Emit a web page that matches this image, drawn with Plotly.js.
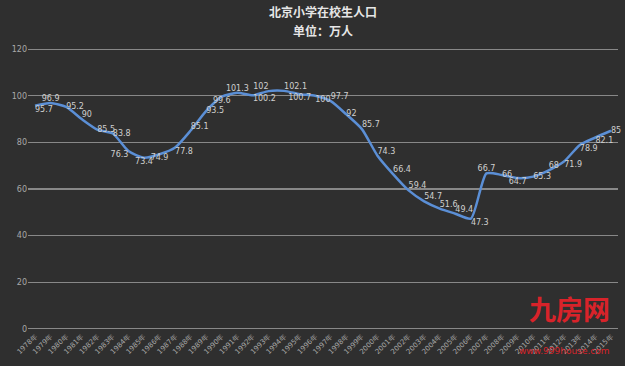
<!DOCTYPE html>
<html><head><meta charset="utf-8">
<script src="https://cdn.plot.ly/plotly-3.0.1.min.js"></script>
<style>html,body{margin:0;padding:0;background:#2f2f2f;}#c{width:625px;height:366px;}</style>
</head><body><div id="c"></div>
<script>
const chartTitle = '北京小学在校生人口';
const chartSubtitle = '单位：万人';
const years = [];
for (let y = 1978; y <= 2015; y++) years.push(y + '年');
const students = [95.7, 96.9, 95.2, 90, 85.5, 83.8, 76.3, 73.4, 74.9, 77.8, 85.1, 93.5, 99.6, 101.3, 100.2, 102, 102.1, 100.7, 100, 97.7, 92, 85.7, 74.3, 66.4, 59.4, 54.7, 51.6, 49.4, 47.3, 66.7, 66, 64.7, 65.3, 68, 71.9, 78.9, 82.1, 85];
const labelPos = ['bottom right','top center','middle right','top right','middle right','middle right','bottom left','bottom center','bottom center','bottom right','top right','middle right','bottom center','top center','bottom right','top left','top right','bottom center','bottom right','top right','middle right','top right','top right','top right','top right','top right','top right','top right','bottom right','top center','middle right','bottom center','middle right','top right','bottom right','bottom right','bottom right','middle right'];

const trace = {
  x: years, y: students, type: 'scatter', mode: 'lines+text',
  line: {color: '#5b8fd6', width: 2.5, shape: 'spline', smoothing: 0.6},
  text: students.map(String), textposition: labelPos,
  textfont: {family: 'DejaVu Sans', size: 8, color: '#cfcfcf'},
  cliponaxis: false, hoverinfo: 'none'
};
const layout = {
  width: 625, height: 366,
  paper_bgcolor: '#2f2f2f', plot_bgcolor: '#2f2f2f',
  margin: {l: 28, r: 7, t: 48, b: 36},
  showlegend: false,
  xaxis: {type: 'category', range: [-0.45, 37.45], showgrid: false, zeroline: false, showline: false,
    tickangle: -45, tickfont: {family: 'DejaVu Sans', size: 7, color: '#a8a8a8'}, ticks: ''},
  yaxis: {range: [-0.5, 120.5], dtick: 20, tick0: 0, showgrid: true, gridcolor: '#888888', gridwidth: 1.2,
    zeroline: false, showline: false, tickfont: {family: 'DejaVu Sans', size: 8, color: '#a8a8a8'}, ticks: ''},
  annotations: [
    {xref: 'paper', yref: 'paper', x: 0.5, y: 1.128, xanchor: 'center', yanchor: 'middle', showarrow: false,
     text: '<b>' + chartTitle + '</b>', font: {family: 'Noto Sans CJK SC', size: 12, color: '#e6e6e6'}},
    {xref: 'paper', yref: 'paper', x: 0.5, y: 1.062, xanchor: 'center', yanchor: 'middle', showarrow: false,
     text: '<b>' + chartSubtitle + '</b>', font: {family: 'Noto Sans CJK SC', size: 12, color: '#e6e6e6'}},
    {xref: 'paper', yref: 'paper', x: 0.99, y: 0.0, xanchor: 'right', yanchor: 'bottom', showarrow: false,
     text: '<b>九房网</b>', font: {family: 'Noto Sans CJK SC', size: 27, color: '#d8232a'}},
    {xref: 'paper', yref: 'paper', x: 0.99, y: -0.1, xanchor: 'right', yanchor: 'bottom', showarrow: false,
     text: 'www.999house.com', font: {family: 'DejaVu Sans', size: 9, color: '#d8232a'}}
  ]
};
Plotly.newPlot('c', [trace], layout, {displayModeBar: false, staticPlot: true});
</script></body></html>
